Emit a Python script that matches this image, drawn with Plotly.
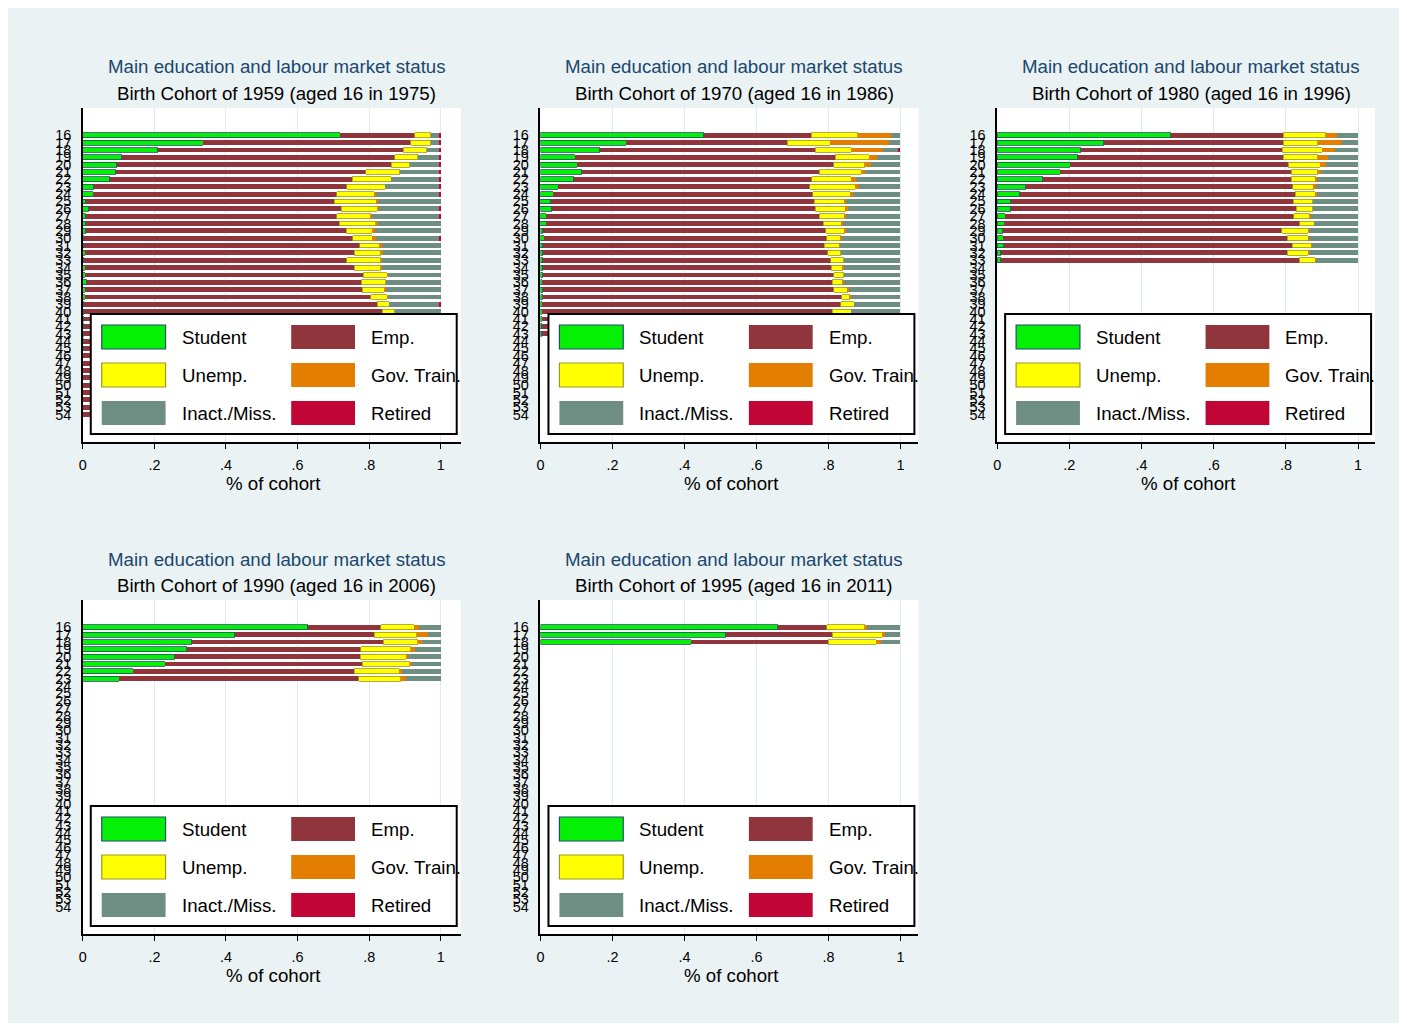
import plotly.graph_objects as go

# ---------------- data (shares of cohort, stacked left to right) ----------------
categories = ["Student", "Emp.", "Unemp.", "Gov. Train.", "Inact./Miss.", "Retired"]
colors = ["#04F004", "#90353B", "#FFFF00", "#E37E00", "#6E8E84", "#C10534"]
outline = ["#1F4F6A", "#90353B", "#9A9A22", "#E37E00", "#6E8E84", "#C10534"]
outline_w = [0.8, 0, 0.8, 0, 0, 0]

cohort_years = ["1959", "1970", "1980", "1990", "1995"]
aged16_years = ["1975", "1986", "1996", "2006", "2011"]
age_ticks = list(range(16, 55))

ages_1959 = list(range(16, 55))
student_1959 = [.719, .337, .209, .109, .095, .092, .075, .031, .029, .008, .016, .008, .008, .008, .003,
                .003, .007, .003, .007, .007, .011, .007, .007, .003, .003,
                .002, .002, .002, .002, .002, .001, .001, .001, .001, .001, .001, .001, .001, .001]
emp_1959 = [.208, .579, .686, .762, .767, .699, .678, .706, .680, .694, .706, .702, .708, .728, .751,
            .770, .752, .735, .752, .776, .767, .774, .798, .819, .834,
            .830, .828, .825, .822, .818, .812, .808, .800, .794, .785, .776, .765, .752, .738]
unemp_1959 = [.045, .056, .066, .065, .051, .095, .108, .108, .105, .118, .101, .094, .102, .072, .054,
              .055, .074, .095, .074, .068, .069, .061, .046, .034, .035,
              .036, .035, .036, .034, .033, .034, .032, .033, .031, .030, .031, .029, .028, .027]
gov_1959 = [0, 0, 0, 0, 0, 0, 0, 0, .006, .004, .004, .005, .007, .009, .010,
            .009, .006, .003, .004, .002, 0, .004, .003, 0, 0,
            0, 0, 0, 0, 0, 0, 0, 0, 0, 0, 0, 0, 0, 0]
inact_1959 = [.025, .025, .036, .061, .084, .111, .136, .152, .177, .176, .170, .188, .175, .183, .179,
              .163, .161, .164, .163, .147, .153, .154, .146, .141, .128,
              .129, .130, .131, .135, .139, .143, .147, .152, .158, .164, .168, .175, .182, .190]
retired_1959 = [.003, .003, .003, .003, .003, .003, .003, .003, .003, 0, .003, .003, 0, 0, .003,
                0, 0, 0, 0, 0, 0, 0, 0, .003, 0,
                .003, .005, .006, .007, .008, .010, .012, .014, .016, .020, .024, .030, .037, .044]

ages_1970 = list(range(16, 44))
student_1970 = [.453, .238, .164, .096, .102, .114, .092, .050, .036, .028, .031, .016, .016, .007,
                .010, .007, .007, .007, .007, .006, .005, .006, .006, .005, .005, .005, .004, .004]
emp_1970 = [.299, .448, .599, .723, .713, .661, .661, .698, .720, .732, .733, .759, .770, .785,
            .785, .782, .791, .799, .801, .809, .806, .809, .831, .829, .805, .815, .812, .808]
unemp_1970 = [.130, .119, .101, .094, .086, .116, .111, .127, .105, .087, .085, .070, .051, .055,
              .040, .042, .036, .036, .032, .027, .029, .039, .024, .037, .054, .045, .048, .050]
gov_1970 = [.093, .162, .087, .022, .017, .011, .012, .010, .007, .003, .005, .003, .003, .003,
            .002, .002, 0, 0, .003, 0, .002, .002, .002, 0, 0, 0, 0, 0]
inact_1970 = [.025, .033, .045, .065, .082, .098, .124, .115, .132, .150, .146, .152, .160, .150,
              .163, .167, .166, .158, .157, .158, .158, .144, .137, .129, .136, .135, .136, .138]
retired_1970 = [0, 0, .004, 0, 0, 0, 0, 0, 0, 0, 0, 0, 0, 0,
                0, 0, 0, 0, 0, 0, 0, 0, 0, 0, 0, 0, 0, 0]

ages_1980 = list(range(16, 34))
student_1980 = [.481, .295, .231, .223, .203, .175, .127, .079, .062, .038, .038, .022, .019, .015,
                .017, .018, .010, .010]
emp_1980 = [.311, .497, .559, .570, .604, .640, .688, .740, .764, .782, .790, .800, .820, .773,
            .787, .799, .794, .827]
unemp_1980 = [.119, .096, .110, .095, .088, .073, .067, .058, .055, .054, .046, .045, .039, .074,
              .058, .054, .058, .044]
gov_1980 = [.030, .067, .036, .028, .016, .009, .004, .005, .004, 0, 0, .003, 0, .003,
            .003, .002, .003, .003]
inact_1980 = [.059, .045, .064, .084, .089, .103, .114, .118, .115, .126, .126, .130, .122, .135,
              .135, .127, .135, .116]
retired_1980 = [0] * 18

ages_1990 = list(range(16, 24))
student_1990 = [.628, .424, .305, .291, .257, .231, .141, .102]
emp_1990 = [.205, .390, .534, .486, .518, .550, .618, .669]
unemp_1990 = [.093, .119, .097, .139, .129, .133, .125, .117]
gov_1990 = [.012, .032, .011, .012, .004, .005, .008, .014]
inact_1990 = [.062, .035, .053, .072, .092, .081, .108, .098]
retired_1990 = [0] * 8

ages_1995 = list(range(16, 19))
student_1995 = [.659, .515, .419]
emp_1995 = [.136, .295, .380]
unemp_1995 = [.106, .139, .134]
gov_1995 = [.006, .007, .012]
inact_1995 = [.093, .044, .055]
retired_1995 = [0, 0, 0]

panels_data = [
    (ages_1959, [student_1959, emp_1959, unemp_1959, gov_1959, inact_1959, retired_1959]),
    (ages_1970, [student_1970, emp_1970, unemp_1970, gov_1970, inact_1970, retired_1970]),
    (ages_1980, [student_1980, emp_1980, unemp_1980, gov_1980, inact_1980, retired_1980]),
    (ages_1990, [student_1990, emp_1990, unemp_1990, gov_1990, inact_1990, retired_1990]),
    (ages_1995, [student_1995, emp_1995, unemp_1995, gov_1995, inact_1995, retired_1995]),
]

x_ticks = [0, 0.2, 0.4, 0.6, 0.8, 1]
x_ticktext = ["0", ".2", ".4", ".6", ".8", "1"]

# ---------------- layout geometry (pixels) ----------------
W, H = 1391, 1015
PW = 379
boxes = [  # left, top, bottom, pixels per unit on x
    (71, 100, 434, 359), (530, 100, 434, 361), (988, 100, 434, 362),
    (71, 592, 926, 359), (530, 592, 926, 361),
]
FONT = "Liberation Sans, Arial, Helvetica, sans-serif"
NAVY = "#1A476F"


def px(x):
    return x / W


def py(y):
    return 1 - y / H


fig = go.Figure()
layout = dict(
    width=W, height=H, margin=dict(l=0, r=0, t=0, b=0),
    paper_bgcolor="#EAF2F3", plot_bgcolor="#FFFFFF",
    barmode="stack", showlegend=False, font=dict(family=FONT, color="black"),
    bargap=0.32,
)
shapes = []
annotations = []

for i, ((ages, series), (L, T, B, ppu)) in enumerate(zip(panels_data, boxes)):
    n = "" if i == 0 else str(i + 1)
    for k, vals in enumerate(series):
        fig.add_trace(go.Bar(
            y=ages, x=vals, orientation="h", name=categories[k],
            marker=dict(color=colors[k], line=dict(color=outline[k], width=outline_w[k])),
            width=0.66, xaxis="x" + n, yaxis="y" + n, hoverinfo="name+x+y",
        ))
    layout["xaxis" + n] = dict(
        domain=[px(L), px(L + PW)], anchor="y" + n, range=[0, PW / ppu],
        tickvals=x_ticks, ticktext=x_ticktext, ticks="outside", ticklen=5,
        tickcolor="black", tickwidth=1, showline=True, linecolor="black", linewidth=1.5,
        showgrid=True, gridcolor="#E1EAEC", gridwidth=1, zeroline=False,
        tickfont=dict(size=14.4, family=FONT, color="black"), ticklabelstandoff=4,
        fixedrange=True,
    )
    layout["yaxis" + n] = dict(
        domain=[py(B), py(T)], anchor="x" + n, range=[57.73, 12.29],
        tickvals=age_ticks, ticktext=[str(a) for a in age_ticks], ticks="",
        showline=True, linecolor="black", linewidth=1.5, showgrid=False, zeroline=False,
        tickfont=dict(size=14.4, family=FONT, color="black"), ticklabelstandoff=7,
        fixedrange=True,
    )
    # titles
    cx = L + PW / 2 + 5
    annotations.append(dict(x=px(cx), y=py(T - 41), xref="paper", yref="paper",
                            text="Main education and labour market status", showarrow=False,
                            font=dict(size=18.7, color=NAVY, family=FONT),
                            xanchor="center", yanchor="middle"))
    annotations.append(dict(x=px(cx), y=py(T - 15), xref="paper", yref="paper",
                            text=f"Birth Cohort of {cohort_years[i]} (aged 16 in {aged16_years[i]})",
                            showarrow=False, font=dict(size=18.7, color="black", family=FONT),
                            xanchor="center", yanchor="middle"))
    annotations.append(dict(x=px(L + PW / 2 + 2), y=py(B + 41), xref="paper", yref="paper",
                            text="% of cohort", showarrow=False,
                            font=dict(size=18.7, color="black", family=FONT),
                            xanchor="center", yanchor="middle"))
    # legend box
    shapes.append(dict(type="rect", xref="paper", yref="paper", layer="above",
                       x0=px(L + 8), x1=px(L + 375), y0=py(B - 8), y1=py(B - 128),
                       fillcolor="white", line=dict(color="black", width=2)))
    order = [(0, 0, 0), (1, 1, 0), (2, 0, 1), (3, 1, 1), (4, 0, 2), (5, 1, 2)]
    for k, col, row in order:
        sx = L + 19 + col * 190
        cy = B - 105 + row * 38
        shapes.append(dict(type="rect", xref="paper", yref="paper", layer="above",
                           x0=px(sx), x1=px(sx + 64), y0=py(cy + 12), y1=py(cy - 12),
                           fillcolor=colors[k],
                           line=dict(color=outline[k], width=1.2 if k in (0, 2) else 0)))
        annotations.append(dict(x=px(sx + 78), y=py(cy), xref="paper", yref="paper",
                                text=categories[k], showarrow=False,
                                font=dict(size=18.7, color="black", family=FONT),
                                xanchor="left", yanchor="middle"))

layout["shapes"] = shapes
layout["annotations"] = annotations
fig.update_layout(**layout)
fig.write_html("out.html")
